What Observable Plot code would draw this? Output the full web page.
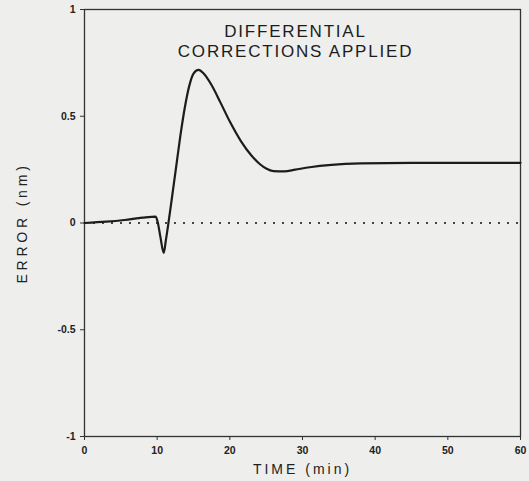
<!DOCTYPE html>
<html>
<head>
<meta charset="utf-8">
<script src="https://cdn.jsdelivr.net/npm/d3@7"></script>
<script src="https://cdn.jsdelivr.net/npm/@observablehq/plot@0.6"></script>
<style>
  html, body { margin: 0; padding: 0; background: #eeeeec; }
  #chart svg g[aria-label="x-axis label"] text { font-size: 14px; letter-spacing: 3px; font-weight: normal; }
  #chart svg g[aria-label="y-axis label"] text { font-size: 14px; letter-spacing: 3.8px; font-weight: normal; }
  #chart svg g[aria-label="text"] text { letter-spacing: 1.8px; }
</style>
</head>
<body>
<div id="chart"></div>
<script>
const time  = [0, 3, 5.5, 8, 9.8, 10.1, 10.45, 10.9, 11.2, 11.55, 12, 12.6, 13.2, 13.8, 14.4, 15, 15.7, 16.4, 17.5, 18.7, 20, 21.5, 23, 24.2, 25, 26, 27.5, 29, 31, 34, 38, 45, 52, 60];
const error = [0, 0.006, 0.014, 0.025, 0.03, 0.0, -0.066, -0.14, -0.08, 0.0, 0.11, 0.26, 0.41, 0.54, 0.64, 0.70, 0.717, 0.70, 0.645, 0.565, 0.475, 0.385, 0.315, 0.274, 0.255, 0.243, 0.242, 0.25, 0.261, 0.272, 0.279, 0.282, 0.282, 0.282];
const xTicks = [0, 10, 20, 30, 40, 50, 60];
const yTicks = [-1, -0.5, 0, 0.5, 1];
const yTickLabels = ["-1", "-0.5", "0", "0.5", "1"];
const titleLines = ["DIFFERENTIAL\nCORRECTIONS APPLIED"];

const data = time.map((t, i) => ({t, e: error[i]}));

const chart = Plot.plot({
  width: 529,
  height: 481,
  marginLeft: 84,
  marginRight: 9,
  marginTop: 9,
  marginBottom: 45,
  style: {background: "#eeeeec", fontFamily: "Liberation Sans, Arial, sans-serif", color: "#222"},
  x: {domain: [0, 60]},
  y: {domain: [-1, 1]},
  marks: [
    Plot.frame({stroke: "#333", strokeWidth: 1.3}),
    Plot.ruleY([0], {stroke: "#444", strokeWidth: 2.2, strokeDasharray: "2,7"}),
    Plot.line(data, {x: "t", y: "e", curve: "monotone-x", stroke: "#1c1c1c", strokeWidth: 2.2}),
    Plot.axisX(xTicks, {tickSize: 4, tickPadding: 6, fontSize: 10.5, fontWeight: "bold", stroke: "#333",
      label: "TIME (min)", labelAnchor: "center", labelOffset: 37, labelArrow: "none"}),
    Plot.axisY(yTicks, {tickSize: 4, tickPadding: 5, fontSize: 10.5, fontWeight: "bold", stroke: "#333",
      tickFormat: d => yTickLabels[yTicks.indexOf(d)],
      label: "ERROR (nm)", labelAnchor: "center", labelOffset: 67, labelArrow: "none"}),
    Plot.text(titleLines, {frameAnchor: "top", dx: -7, dy: 13, lineAnchor: "top", lineHeight: 1.2,
      fontSize: 17, fill: "#1c1c1c", text: d => d})
  ]
});
document.getElementById("chart").append(chart);
</script>
</body>
</html>
